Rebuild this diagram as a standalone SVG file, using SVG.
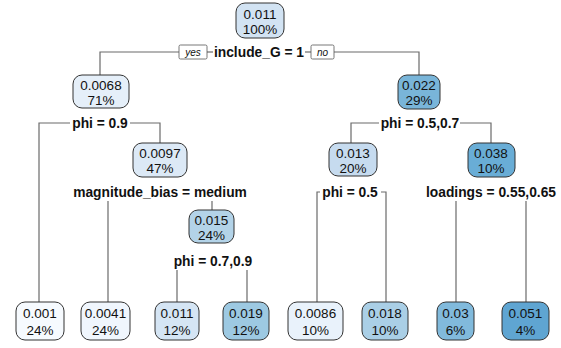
<svg xmlns="http://www.w3.org/2000/svg" width="561" height="348" viewBox="0 0 561 348">
  <style>
    .box { stroke: #333333; stroke-width: 1; }
    .val { font-family: "Liberation Sans", Arial, sans-serif; font-size: 13.5px; fill: #111111; text-anchor: middle; }
    .split { font-family: "Liberation Sans", Arial, sans-serif; font-size: 13.8px; font-weight: bold; fill: #111111; text-anchor: middle; }
    .tag { font-family: "Liberation Sans", Arial, sans-serif; font-size: 10px; font-style: italic; fill: #111111; text-anchor: middle; }
    .tagbox { fill: #ffffff; stroke: #555555; stroke-width: 0.8; }
    .branch { fill: none; stroke: #6a6a6a; stroke-width: 1.2; }
  </style>
  <rect width="561" height="348" fill="#ffffff"/>

  <!-- branches -->
  <g id="connectors">
    <path class="branch" d="M100,75 V52 H179"/>
    <path class="branch" d="M207,52 H213"/>
    <path class="branch" d="M305,52 H311"/>
    <path class="branch" d="M334,52 H419 V75"/>
    <path class="branch" d="M70,123 H39 V302"/>
    <path class="branch" d="M130,123 H160 V143"/>
    <path class="branch" d="M108,201 V302"/>
    <path class="branch" d="M212,201 V210"/>
    <path class="branch" d="M177,270 V302"/>
    <path class="branch" d="M247,270 V302"/>
    <path class="branch" d="M379,123 H351 V143"/>
    <path class="branch" d="M460,123 H491 V143"/>
    <path class="branch" d="M320,192 H317 V302"/>
    <path class="branch" d="M381,192 H386 V302"/>
    <path class="branch" d="M456,201 V302"/>
    <path class="branch" d="M526,201 V302"/>
    <g id="yes-no">
      <rect class="tagbox" x="179" y="45" width="28" height="14" rx="1.5"/>
      <text class="tag" x="193" y="55.5">yes</text>
      <rect class="tagbox" x="311" y="45" width="23" height="14" rx="1.5"/>
      <text class="tag" x="322.5" y="55.5">no</text>
    </g>
  </g>

  <!-- split labels -->
  <g id="splits">
    <text class="split" x="259" y="57">include_G = 1</text>
    <text class="split" x="100" y="128">phi = 0.9</text>
    <text class="split" x="160" y="197">magnitude_bias = medium</text>
    <text class="split" x="213" y="266">phi = 0.7,0.9</text>
    <text class="split" x="420" y="128">phi = 0.5,0.7</text>
    <text class="split" x="350" y="197">phi = 0.5</text>
    <text class="split" x="491" y="197">loadings = 0.55,0.65</text>
  </g>

  <!-- internal nodes -->
  <g id="node1">
    <rect class="box" x="236" y="3" width="48" height="35" rx="9" fill="#d2e3f3"/>
    <text class="val" x="260" y="18.5">0.011</text>
    <text class="val" x="260" y="33.5">100%</text>
  </g>
  <g id="node2">
    <rect class="box" x="73" y="75" width="56" height="33" rx="9" fill="#e5eff9"/>
    <text class="val" x="101" y="89.5">0.0068</text>
    <text class="val" x="101" y="104.5">71%</text>
  </g>
  <g id="node3">
    <rect class="box" x="398" y="75" width="42" height="34" rx="9" fill="#79b5d9"/>
    <text class="val" x="419" y="89.5">0.022</text>
    <text class="val" x="419" y="104.5">29%</text>
  </g>
  <g id="node5">
    <rect class="box" x="133" y="143" width="54" height="34" rx="9" fill="#dce9f6"/>
    <text class="val" x="160" y="157.5">0.0097</text>
    <text class="val" x="160" y="172.5">47%</text>
  </g>
  <g id="node6">
    <rect class="box" x="329" y="143" width="48" height="33" rx="9" fill="#c6dbef"/>
    <text class="val" x="353" y="157.5">0.013</text>
    <text class="val" x="353" y="172.5">20%</text>
  </g>
  <g id="node7">
    <rect class="box" x="468" y="143" width="47" height="34" rx="9" fill="#69add6"/>
    <text class="val" x="491" y="157.5">0.038</text>
    <text class="val" x="491" y="172.5">10%</text>
  </g>
  <g id="node11">
    <rect class="box" x="189" y="210" width="45" height="33" rx="9" fill="#b3d3e8"/>
    <text class="val" x="211.5" y="224.5">0.015</text>
    <text class="val" x="211.5" y="239.5">24%</text>
  </g>

  <!-- leaves -->
  <g id="leaf4">
    <rect class="box" x="16" y="302" width="48" height="38" rx="9" fill="#f6fafe"/>
    <text class="val" x="40" y="318">0.001</text>
    <text class="val" x="40" y="334.5">24%</text>
  </g>
  <g id="leaf10">
    <rect class="box" x="81" y="302" width="49" height="38" rx="9" fill="#f0f6fd"/>
    <text class="val" x="105.5" y="318">0.0041</text>
    <text class="val" x="105.5" y="334.5">24%</text>
  </g>
  <g id="leaf22">
    <rect class="box" x="155" y="302" width="44" height="38" rx="9" fill="#d5e5f4"/>
    <text class="val" x="177" y="318">0.011</text>
    <text class="val" x="177" y="334.5">12%</text>
  </g>
  <g id="leaf23">
    <rect class="box" x="223" y="302" width="46" height="38" rx="9" fill="#9dc9e2"/>
    <text class="val" x="246" y="318">0.019</text>
    <text class="val" x="246" y="334.5">12%</text>
  </g>
  <g id="leaf12">
    <rect class="box" x="288" y="302" width="55" height="38" rx="9" fill="#e9f2fb"/>
    <text class="val" x="315.5" y="318">0.0086</text>
    <text class="val" x="315.5" y="334.5">10%</text>
  </g>
  <g id="leaf13">
    <rect class="box" x="362" y="302" width="46" height="38" rx="9" fill="#aacfe6"/>
    <text class="val" x="385" y="318">0.018</text>
    <text class="val" x="385" y="334.5">10%</text>
  </g>
  <g id="leaf14">
    <rect class="box" x="437" y="302" width="37" height="38" rx="9" fill="#81badc"/>
    <text class="val" x="455.5" y="318">0.03</text>
    <text class="val" x="455.5" y="334.5">6%</text>
  </g>
  <g id="leaf15">
    <rect class="box" x="502" y="302" width="47" height="38" rx="9" fill="#5fa5d2"/>
    <text class="val" x="525.5" y="318">0.051</text>
    <text class="val" x="525.5" y="334.5">4%</text>
  </g>
</svg>
